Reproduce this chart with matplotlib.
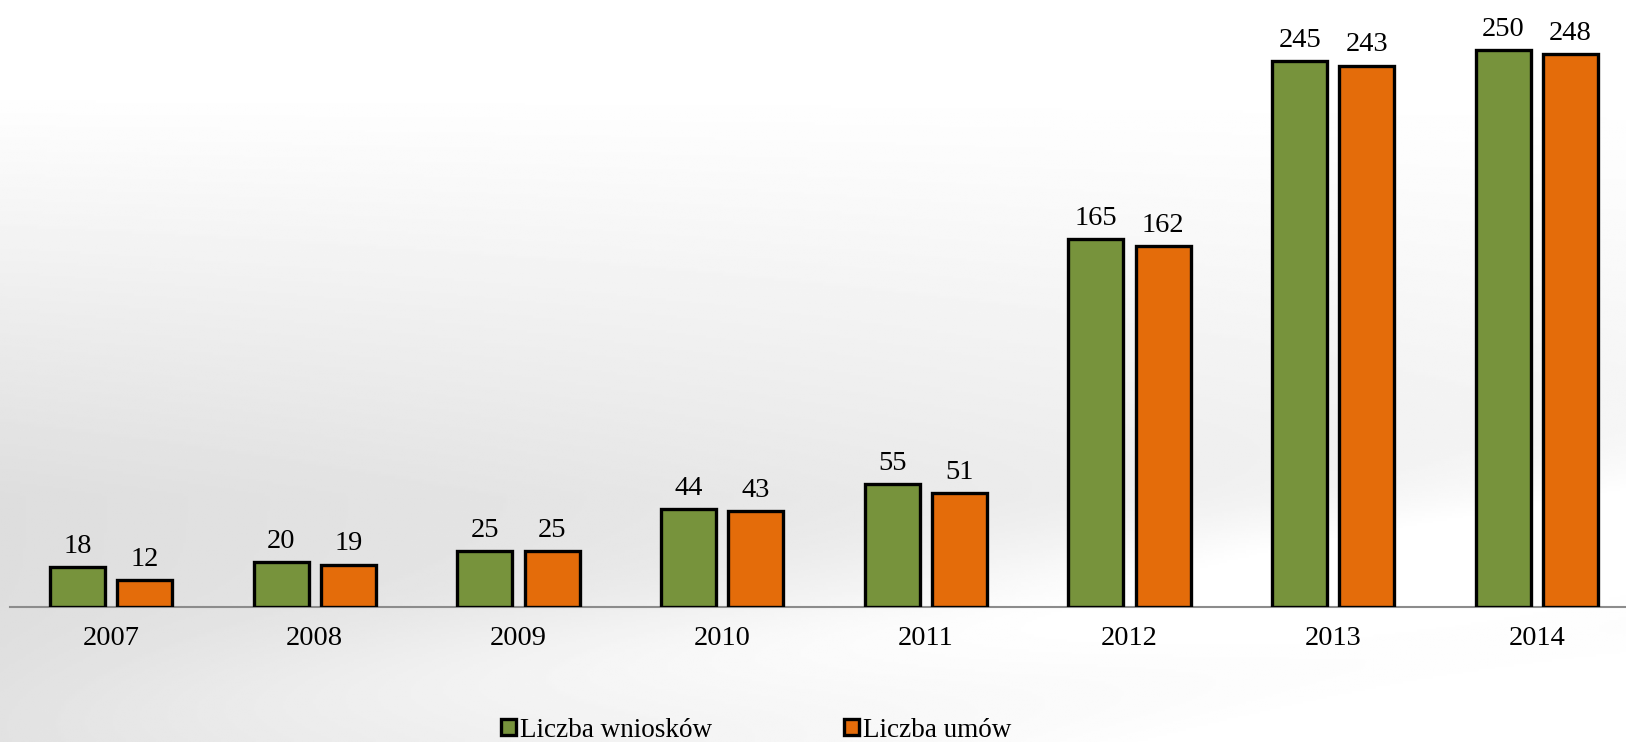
import numpy as np
import matplotlib
matplotlib.use("Agg")
import matplotlib.pyplot as plt
from matplotlib.patches import Rectangle

years = ["2007", "2008", "2009", "2010", "2011", "2012", "2013", "2014"]
wnioski = [18, 20, 25, 44, 55, 165, 245, 250]
umowy = [12, 19, 25, 43, 51, 162, 243, 248]
series_names = ["Liczba wniosków", "Liczba umów"]
colors = ["#77933C", "#E46C0A"]

plt.rcParams['font.family'] = ['Liberation Serif', 'DejaVu Serif']
FS = 20.5
LFS = 19.5

W, H = 1626, 742
fig = plt.figure(figsize=(W / 100, H / 100), dpi=100)

# background gradient
bg = fig.add_axes([0, 0, 1, 1])
yy, xx = np.mgrid[0:1:300j, 0:1:600j]  # yy: 0 top -> 1 bottom
v = 1.0 - 0.13 * np.clip((yy - 0.12) / 0.55, 0, 1) * (1 - 0.6 * xx)
band = np.exp(-((yy - (0.98 - 0.25 * xx)) / 0.10) ** 2)
v = v + 0.08 * band * np.clip(xx + 0.2, 0, 1)
v = v + 0.10 * np.clip((yy - 0.8) / 0.2, 0, 1) * xx
v = np.clip(v, 0, 1)
bg.imshow(v, cmap="gray", vmin=0, vmax=1, aspect="auto", extent=[0, 1, 1, 0])
bg.set_axis_off()

x0, x7 = 111, 1537
ppu = (x7 - x0) / 7
left_px = 10
base_px = 607
ppy = 557 / 250

ax = fig.add_axes([left_px / W, (H - base_px) / H, 1 - left_px / W, base_px / H])
ax.patch.set_alpha(0)
ax.set_xlim(-(x0 - left_px) / ppu, 7 + (W - x7) / ppu)
ax.set_ylim(0, base_px / ppy)

x = np.arange(len(years))
bw = 0.27
off = 0.165
b1 = ax.bar(x - off, wnioski, bw, color=colors[0], edgecolor="black", linewidth=2.4,
            label=series_names[0], zorder=3)
b2 = ax.bar(x + off, umowy, bw, color=colors[1], edgecolor="black", linewidth=2.4,
            label=series_names[1], zorder=3)
for bars, vals in ((b1, wnioski), (b2, umowy)):
    for r, val in zip(bars, vals):
        ax.annotate(str(val), (r.get_x() + r.get_width() / 2, val), xytext=(0, 6),
                    textcoords="offset points", ha="center", va="bottom", fontsize=FS)

for s in ["top", "right", "left"]:
    ax.spines[s].set_visible(False)
ax.spines["bottom"].set_color("#8c8c8c")
ax.spines["bottom"].set_linewidth(1.5)
ax.set_yticks([])
ax.set_xticks(x)
ax.set_xticklabels(years, fontsize=FS)
ax.tick_params(axis="x", length=0, pad=14)

handles = [Rectangle((0, 0), 1, 1, facecolor=c, edgecolor="black", linewidth=2.4) for c in colors]
fig.legend(handles, series_names, loc="center", bbox_to_anchor=(0.465, 0.016), ncol=2,
           frameon=False, fontsize=LFS, handlelength=0.55, handleheight=0.55,
           handletextpad=0.15, columnspacing=4.85)

fig.savefig("out.png", dpi=100)
